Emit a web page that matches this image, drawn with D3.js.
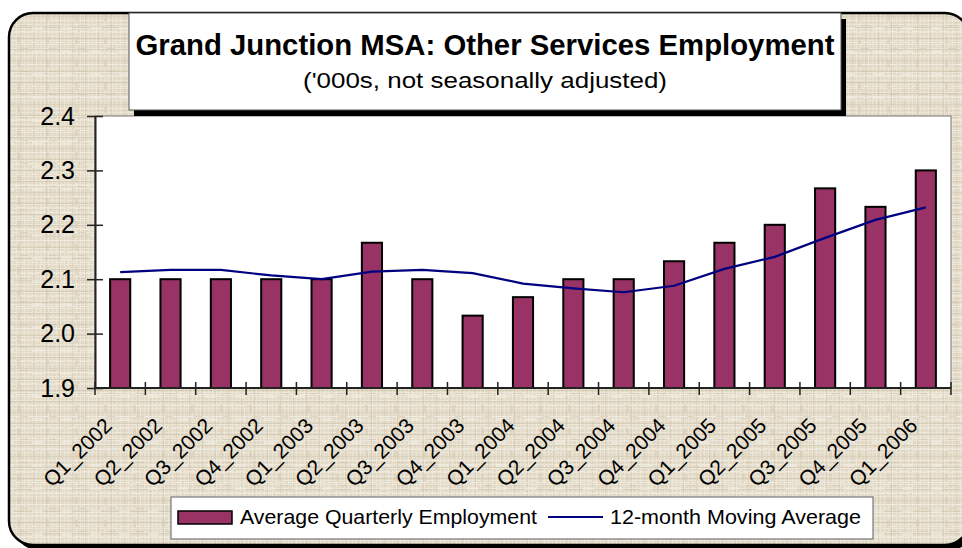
<!DOCTYPE html>
<html>
<head>
<meta charset="utf-8">
<script src="https://cdn.jsdelivr.net/npm/d3@7"></script>
<style>
  html, body { margin: 0; padding: 0; background: #ffffff; }
  svg { display: block; font-family: "Liberation Sans", Arial, sans-serif; }
</style>
</head>
<body>
<svg id="chart" width="962" height="548"></svg>
<script>
// ---- data ----
const categories = ["Q1_2002","Q2_2002","Q3_2002","Q4_2002","Q1_2003","Q2_2003","Q3_2003","Q4_2003",
  "Q1_2004","Q2_2004","Q3_2004","Q4_2004","Q1_2005","Q2_2005","Q3_2005","Q4_2005","Q1_2006"];
const quarterlyEmployment = [2.100,2.100,2.100,2.100,2.100,2.167,2.100,2.033,
  2.067,2.100,2.100,2.133,2.167,2.200,2.267,2.233,2.300];
const movingAverage = [2.113,2.117,2.117,2.107,2.100,2.114,2.117,2.111,
  2.092,2.083,2.076,2.088,2.119,2.141,2.176,2.209,2.232];
const yTicks = [1.9, 2.0, 2.1, 2.2, 2.3, 2.4];
const seriesNames = ["Average Quarterly Employment", "12-month Moving Average"];
const titleText = "Grand Junction MSA: Other Services Employment";
const subtitleText = "('000s, not seasonally adjusted)";

const svg = d3.select("#chart");
const plot = {left: 95, right: 951, top: 116, bottom: 388};
const barColor = "#993366", lineColor = "#000080";

// ---- texture pattern ----
const defs = svg.append("defs");
const p1 = defs.append("pattern").attr("id","weave1").attr("patternUnits","userSpaceOnUse")
  .attr("width",4).attr("height",4);
p1.append("rect").attr("width",4).attr("height",4).attr("fill","#e2d9c7");
p1.append("rect").attr("x",0).attr("y",0).attr("width",4).attr("height",1).attr("fill","#ede7da");
p1.append("rect").attr("x",0).attr("y",0).attr("width",1).attr("height",4).attr("fill","#ece5d7");
const p2 = defs.append("pattern").attr("id","weave2").attr("patternUnits","userSpaceOnUse")
  .attr("width",13).attr("height",11);
p2.append("rect").attr("x",0).attr("y",5).attr("width",13).attr("height",1).attr("fill","#cfc4ad").attr("opacity",0.6);
p2.append("rect").attr("x",7).attr("y",0).attr("width",1).attr("height",11).attr("fill","#d2c7b1").attr("opacity",0.6);
p2.append("rect").attr("x",2).attr("y",9).attr("width",13).attr("height",1).attr("fill","#f4f0e6").attr("opacity",0.7);
const p3 = defs.append("pattern").attr("id","weave3").attr("patternUnits","userSpaceOnUse")
  .attr("width",29).attr("height",23);
p3.append("rect").attr("x",3).attr("y",4).attr("width",11).attr("height",3).attr("fill","#f2ede2").attr("opacity",0.6);
p3.append("rect").attr("x",17).attr("y",14).attr("width",3).attr("height",7).attr("fill","#d5cab4").attr("opacity",0.5);
p3.append("rect").attr("x",20).attr("y",2).attr("width",8).attr("height",1).attr("fill","#cbbfa7").attr("opacity",0.5);

// ---- outer rounded frame ----
const frame = {x: 9, y: 13, w: 960, h: 532, r: 24};
svg.append("rect").attr("x",frame.x+5).attr("y",frame.y+5).attr("width",frame.w).attr("height",frame.h)
  .attr("rx",frame.r).attr("fill","#000");
["url(#weave1)","url(#weave2)","url(#weave3)"].forEach(f => {
  svg.append("rect").attr("x",frame.x).attr("y",frame.y).attr("width",frame.w).attr("height",frame.h)
    .attr("rx",frame.r).attr("fill",f);
});
svg.append("rect").attr("x",frame.x).attr("y",frame.y).attr("width",frame.w).attr("height",frame.h)
  .attr("rx",frame.r).attr("fill","none").attr("stroke","#000").attr("stroke-width",2.5);

// ---- scales ----
const x = d3.scaleBand().domain(categories).range([plot.left, plot.right])
  .paddingInner(0.6).paddingOuter(0.3);
const y = d3.scaleLinear().domain([1.9, 2.4]).range([plot.bottom, plot.top]);

// ---- plot area ----
svg.append("rect").attr("x",plot.left).attr("y",plot.top)
  .attr("width",plot.right-plot.left).attr("height",plot.bottom-plot.top)
  .attr("fill","#fff").attr("stroke","#8a8a8a").attr("stroke-width",1.2);

svg.append("g").selectAll("rect").data(quarterlyEmployment).join("rect")
  .attr("x",(d,i)=>x(categories[i]))
  .attr("y",d=>y(d))
  .attr("width",x.bandwidth())
  .attr("height",d=>y(1.9)-y(d))
  .attr("fill",barColor).attr("stroke","#000").attr("stroke-width",2);

const line = d3.line()
  .x((d,i)=>x(categories[i]) + x.bandwidth()/2)
  .y(d=>y(d));
svg.append("path").datum(movingAverage).attr("d",line)
  .attr("fill","none").attr("stroke",lineColor).attr("stroke-width",2.2);

const yAxis = d3.axisLeft(y).tickValues(yTicks).tickFormat(d3.format(".1f"))
  .tickSizeInner(8).tickSizeOuter(0).tickPadding(12);
const gy = svg.append("g").attr("transform",`translate(${plot.left},0)`).call(yAxis);
gy.select(".domain").attr("stroke","#222").attr("stroke-width",2);
gy.selectAll(".tick line").attr("stroke","#222").attr("stroke-width",1.5).attr("x2",8).attr("x1",-8);
gy.selectAll(".tick text").attr("font-size",25).attr("fill","#000")
  .attr("font-family","'Liberation Sans', Arial, sans-serif").attr("x",-20);

const boundaries = d3.range(categories.length + 1).map(i => plot.left + i * x.step());
const gx = svg.append("g");
gx.append("line").attr("x1",plot.left).attr("x2",plot.right).attr("y1",plot.bottom).attr("y2",plot.bottom)
  .attr("stroke","#222").attr("stroke-width",2);
gx.selectAll("line.tk").data(boundaries).join("line").attr("class","tk")
  .attr("x1",d=>d).attr("x2",d=>d).attr("y1",plot.bottom-6).attr("y2",plot.bottom+7)
  .attr("stroke","#222").attr("stroke-width",1.5);
gx.selectAll("text").data(categories).join("text")
  .attr("transform",d=>`translate(${x(d)+x.bandwidth()/2-7},427) rotate(-45)`)
  .attr("text-anchor","end").attr("font-size",21).attr("fill","#000")
  .text(d=>d);

const tb = {x: 129, y: 13, w: 712, h: 97};
svg.append("rect").attr("x",tb.x+5).attr("y",tb.y+6).attr("width",tb.w).attr("height",tb.h).attr("fill","#000");
svg.append("rect").attr("x",tb.x).attr("y",tb.y).attr("width",tb.w).attr("height",tb.h)
  .attr("fill","#fff").attr("stroke","#555").attr("stroke-width",1);
svg.append("text").attr("x",tb.x+tb.w/2).attr("y",55).attr("text-anchor","middle")
  .attr("font-size",29).attr("font-weight","bold").attr("fill","#000")
  .attr("textLength",699).attr("lengthAdjust","spacingAndGlyphs")
  .text(titleText);
svg.append("text").attr("x",tb.x+tb.w/2).attr("y",88).attr("text-anchor","middle")
  .attr("font-size",22).attr("fill","#000")
  .attr("textLength",364).attr("lengthAdjust","spacingAndGlyphs")
  .text(subtitleText);

const lg = {x: 171, y: 497, w: 702, h: 42};
svg.append("rect").attr("x",lg.x).attr("y",lg.y).attr("width",lg.w).attr("height",lg.h)
  .attr("fill","#fff").attr("stroke","#777").attr("stroke-width",1.2);
svg.append("rect").attr("x",178).attr("y",511).attr("width",54).attr("height",13)
  .attr("fill",barColor).attr("stroke","#000").attr("stroke-width",1.5);
svg.append("text").attr("x",240).attr("y",524).attr("font-size",21).attr("fill","#000")
  .attr("textLength",297).attr("lengthAdjust","spacingAndGlyphs").text(seriesNames[0]);
svg.append("line").attr("x1",548).attr("x2",603).attr("y1",517).attr("y2",517)
  .attr("stroke",lineColor).attr("stroke-width",2);
svg.append("text").attr("x",610).attr("y",524).attr("font-size",21).attr("fill","#000")
  .attr("textLength",251).attr("lengthAdjust","spacingAndGlyphs").text(seriesNames[1]);
</script>
</body>
</html>
